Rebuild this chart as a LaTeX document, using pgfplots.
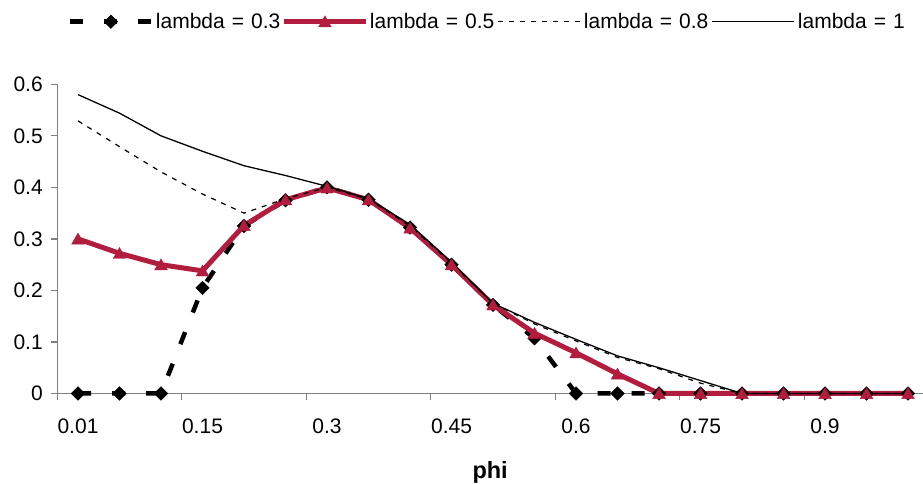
\documentclass[border=0pt]{standalone}
\usepackage{pgfplots}
\pgfplotsset{compat=1.18}
\usepackage{pgfplotstable}
\usepackage{fontspec}
\setmainfont{Liberation Sans}
\definecolor{redline}{RGB}{178,28,62}
\definecolor{axgray}{RGB}{128,128,128}

\pgfplotstableread{
idx l03 l05 l08 l1
0 0 0.30 0.529 0.58
1 0 0.272 0.479 0.544
2 0 0.25 0.43 0.50
3 0.205 0.238 0.387 0.47
4 0.325 0.326 0.35 0.442
5 0.375 0.376 0.378 0.423
6 0.40 0.399 0.40 0.402
7 0.376 0.376 0.377 0.378
8 0.322 0.321 0.325 0.328
9 0.25 0.25 0.253 0.255
10 0.172 0.172 0.175 0.175
11 0.107 0.117 0.135 0.138
12 0 0.079 0.102 0.105
13 0 0.038 0.07 0.073
14 0 0 0.048 0.05
15 0 0 0.02 0.025
16 0 0 0 0
17 0 0 0 0
18 0 0 0 0
19 0 0 0 0
20 0 0 0 0
}\datatable

\begin{document}
\begin{tikzpicture}[font=\fontsize{21}{25}\selectfont]
\begin{axis}[
  scale only axis, width=865.75pt, height=309.2pt,
  xmin=-0.5, xmax=20.36, ymin=0, ymax=0.6,
  axis lines*=left,
  axis line style={axgray, line width=1.3pt},
  tick align=outside, major tick length=6pt,
  tick style={axgray, line width=1.3pt},
  xtick={-0.5,2.5,5.5,8.5,11.5,14.5,17.5},
  xticklabels={0.01,0.15,0.3,0.45,0.6,0.75,0.9},
  xticklabel style={xshift=20.75pt, yshift=-16pt},
  ytick={0,0.1,0.2,0.3,0.4,0.5,0.6},
  yticklabels={0,0.1,0.2,0.3,0.4,0.5,0.6},
  yticklabel style={xshift=-5pt},
  /pgf/number format/assume math mode=true,
  xlabel={phi},
  xlabel style={at={(axis description cs:0.5,0)}, anchor=base, yshift=-84.5pt, font=\fontsize{23.5}{27}\selectfont\bfseries},
  clip=false,
  legend image code/.code={\path[draw=none, fill=none, use as bounding box] (0pt,-8pt) rectangle (82pt,8pt);
    \draw[mark repeat=2,mark phase=2,#1] plot coordinates {(0pt,0pt) (41pt,0pt) (82pt,0pt)};},
  legend cell align=left,
  legend style={draw=none, fill=none, legend columns=4,
    at={(axis description cs:0.0147,1.2025)}, anchor=west,
    inner sep=0pt, outer sep=0pt,
    nodes={inner sep=0pt, outer sep=0pt, anchor=west},
    /tikz/every odd column/.append style={column sep=4pt},
    /tikz/every even column/.append style={column sep=0pt, nodes={text width=128pt, align=left}}},
]
\addplot[black, line width=4.5pt, dash pattern=on 13pt off 21pt,
  mark=square*, mark size=4.8pt, mark options={solid, rotate=45, line width=0.4pt}]
  table[x=idx, y=l03] {\datatable};
\addplot[redline, line width=5pt, mark=triangle*, mark size=7.3pt,
  mark options={solid, line width=0.4pt, yshift=-1.5pt}]
  table[x=idx, y=l05] {\datatable};
\addplot[black, line width=1.2pt, dash pattern=on 5pt off 6pt, mark=none]
  table[x=idx, y=l08] {\datatable};
\addplot[black, line width=1.3pt, mark=none]
  table[x=idx, y=l1] {\datatable};
\legend{lambda = 0.3, lambda = 0.5, lambda = 0.8, lambda = 1}
\end{axis}
\pgfresetboundingbox
\path ([xshift=-57.25pt,yshift=-90.5pt]current axis.south west) rectangle ++(923pt,484pt);
\end{tikzpicture}
\end{document}
